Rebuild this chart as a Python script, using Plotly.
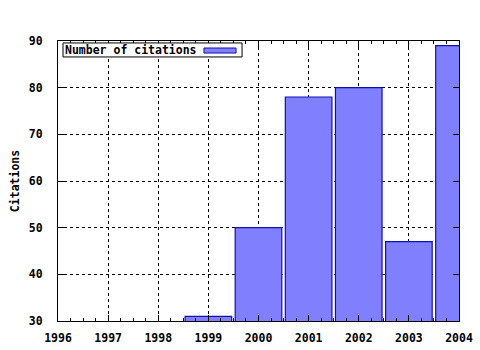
import plotly.graph_objects as go

years = [1999, 2000, 2001, 2002, 2003, 2004]
citations = [31, 50, 78, 80, 47, 89]
x_ticks = [1996, 1997, 1998, 1999, 2000, 2001, 2002, 2003, 2004]
y_ticks = [30, 40, 50, 60, 70, 80, 90]
series_name = "Number of citations"

FONT = dict(family="DejaVu Sans Mono", size=11.5, color="black", weight="bold")
FILL = "#8080ff"
EDGE = "#1010b0"

fig = go.Figure()
fig.add_trace(go.Bar(
    x=years, y=citations, name=series_name, width=0.93,
    marker=dict(color=FILL, line=dict(color=EDGE, width=1.2)),
    showlegend=False,
))

axis_common = dict(
    showline=True, linecolor="black", linewidth=1, mirror="ticks",
    ticks="inside", ticklen=6, tickcolor="black", tickwidth=1,
    showgrid=True, gridcolor="black", griddash="dot", gridwidth=1,
    zeroline=False, tickfont=FONT, automargin=False,
)

fig.update_xaxes(range=[1996, 2004], tickvals=x_ticks,
                 ticktext=[str(v) for v in x_ticks], ticklabelstandoff=6,
                 minor=dict(dtick=0.25, ticks="inside", ticklen=3, tickcolor="black", showgrid=False),
                 **axis_common)
fig.update_yaxes(range=[30, 90], tickvals=y_ticks, ticklabelstandoff=12,
                 title=dict(text="Citations", font=FONT, standoff=6),
                 **axis_common)

# gnuplot-style key: text then sample box, inside top-left
fig.add_shape(type="rect", xref="paper", yref="paper",
              x0=0.0125, x1=0.459, y0=0.943, y1=0.993,
              fillcolor="white", line=dict(color="black", width=1))
fig.add_annotation(xref="paper", yref="paper", x=0.014, y=0.968,
                   xanchor="left", yanchor="middle", showarrow=False,
                   text=series_name, font=FONT, borderpad=0)
fig.add_shape(type="rect", xref="paper", yref="paper",
              x0=0.364, x1=0.444, y0=0.957, y1=0.975,
              fillcolor=FILL, line=dict(color=EDGE, width=1))

fig.update_layout(
    width=480, height=350,
    margin=dict(l=58, r=21, t=41, b=29),
    plot_bgcolor="white", paper_bgcolor="white",
    bargap=0.07, font=FONT,
)

fig.write_html("out.html")
